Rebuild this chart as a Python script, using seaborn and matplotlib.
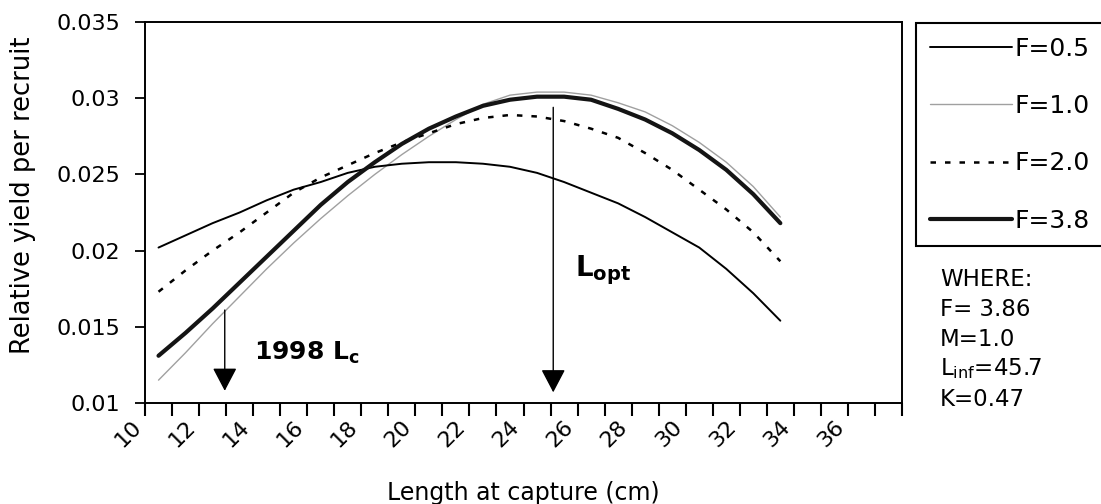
import matplotlib
matplotlib.use("Agg")
import matplotlib.pyplot as plt
import pandas as pd
import seaborn as sns

# Length at first capture (cm) for every computed point
length_cm = [10.5, 11.5, 12.5, 13.5, 14.5, 15.5, 16.5, 17.5, 18.5, 19.5, 20.5, 21.5,
             22.5, 23.5, 24.5, 25.5, 26.5, 27.5, 28.5, 29.5, 30.5, 31.5, 32.5, 33.5]

# Relative yield per recruit for each fishing mortality
yr_f05 = [0.0202, 0.0210, 0.0218, 0.0225, 0.0233, 0.0240, 0.0245, 0.0251, 0.0255, 0.0257,
          0.0258, 0.0258, 0.0257, 0.0255, 0.0251, 0.0245, 0.0238, 0.0231, 0.0222, 0.0212,
          0.0202, 0.0188, 0.0172, 0.0154]
yr_f10 = [0.0115, 0.0133, 0.0152, 0.0170, 0.0188, 0.0205, 0.0221, 0.0236, 0.0250, 0.0263,
          0.0275, 0.0286, 0.0296, 0.0302, 0.0304, 0.0304, 0.0302, 0.0297, 0.0291, 0.0282,
          0.0271, 0.0258, 0.0242, 0.0222]
yr_f20 = [0.0173, 0.0187, 0.0200, 0.0212, 0.0225, 0.0238, 0.0248, 0.0256, 0.0264, 0.0271,
          0.0277, 0.0283, 0.0287, 0.0289, 0.0288, 0.0285, 0.0280, 0.0274, 0.0264, 0.0253,
          0.0240, 0.0227, 0.0212, 0.0193]
yr_f38 = [0.0131, 0.0146, 0.0162, 0.0179, 0.0196, 0.0213, 0.0230, 0.0245, 0.0258, 0.0270,
          0.0280, 0.0288, 0.0295, 0.0299, 0.0301, 0.0301, 0.0299, 0.0293, 0.0286, 0.0277,
          0.0266, 0.0253, 0.0237, 0.0218]

series_labels = ["F=0.5", "F=1.0", "F=2.0", "F=3.8"]

# Reference lengths marked with arrows
lc_1998 = 12.95
l_opt = 25.1

x_ticks = list(range(10, 39))
x_tick_labels = ["10", "12", "14", "16", "18", "20", "22", "24", "26", "28", "30", "32", "34", "36"]
y_ticks = [0.01, 0.015, 0.02, 0.025, 0.03, 0.035]
y_tick_labels = ["0.01", "0.015", "0.02", "0.025", "0.03", "0.035"]

param_lines = ["WHERE:", "F= 3.86", "M=1.0", r"$\mathregular{L_{inf}}$=45.7", "K=0.47"]

sns.set_theme(style="ticks")
plt.rcParams["font.family"] = ["DejaVu Sans"]
plt.rcParams["mathtext.fontset"] = "dejavusans"
plt.rcParams["mathtext.default"] = "regular"
plt.rcParams["text.color"] = "black"
plt.rcParams["axes.labelcolor"] = "black"

W, H = 1101, 504
fig = plt.figure(figsize=(W / 100, H / 100), dpi=100)
ax = fig.add_axes([145 / W, 101 / H, 757 / W, 381 / H])

df = pd.DataFrame({"L": length_cm, "F=0.5": yr_f05, "F=1.0": yr_f10,
                   "F=2.0": yr_f20, "F=3.8": yr_f38})

styles = {
    "F=1.0": dict(color="#a0a0a0", linewidth=1.0, linestyle="-", zorder=2),
    "F=0.5": dict(color="black", linewidth=1.4, linestyle="-", zorder=3),
    "F=2.0": dict(color="black", linewidth=1.8, linestyle=(0, (2.2, 3.6)), zorder=3),
    "F=3.8": dict(color="#141414", linewidth=3.0, linestyle="-", zorder=4),
}
handles = {}
for name in ["F=1.0", "F=0.5", "F=2.0", "F=3.8"]:
    st = styles[name]
    sns.lineplot(data=df, x="L", y=name, ax=ax, sort=False, errorbar=None,
                 color=st["color"], linewidth=st["linewidth"],
                 linestyle=st["linestyle"], zorder=st["zorder"])
    handles[name] = ax.get_lines()[-1]

ax.set_xlim(10, 38)
ax.set_ylim(0.01, 0.035)
ax.set_xticks(x_ticks)
lab_map = {int(t): t for t in x_tick_labels}
ax.set_xticklabels([lab_map.get(v, "") for v in x_ticks], rotation=45,
                   ha="right", va="top", rotation_mode="default")
ax.set_yticks(y_ticks)
ax.set_yticklabels(y_tick_labels)
ax.tick_params(axis="x", direction="out", length=9, width=1.5, colors="black",
               labelsize=16, pad=1)
ax.tick_params(axis="y", direction="out", length=7, width=1.3, colors="black",
               labelsize=16, pad=11)
for sp in ax.spines.values():
    sp.set_visible(True)
    sp.set_color("black")
    sp.set_linewidth(1.4)

ax.set_xlabel("Length at capture (cm)", fontsize=17)
ax.xaxis.set_label_coords(0.5, -0.205)
ax.set_ylabel("Relative yield per recruit", fontsize=18.5)
ax.yaxis.set_label_coords(-0.144, 0.545)

arrow = dict(arrowstyle="-|>,head_length=0.8,head_width=0.42", mutation_scale=18,
             color="black", lw=1.0, shrinkA=0, shrinkB=0)
ax.annotate("", xy=(lc_1998, 0.0108), xytext=(lc_1998, 0.0161), arrowprops=arrow, zorder=5)
ax.annotate("", xy=(l_opt, 0.0107), xytext=(l_opt, 0.0294), arrowprops=arrow, zorder=5)
ax.text(14.05, 0.0133, r"1998 $\mathbf{L_c}$", fontsize=18, fontweight="bold",
        ha="left", va="center")
ax.text(25.9, 0.0187, r"$\mathbf{L_{opt}}$", fontsize=20, ha="left", va="center")

leg = ax.legend([handles[n] for n in series_labels], series_labels,
                loc="upper left", bbox_to_anchor=(916 / W, 1 - 23 / H),
                bbox_transform=fig.transFigure, frameon=True, fancybox=False,
                edgecolor="black", framealpha=1, fontsize=18, borderpad=0.55,
                handlelength=3.3, handletextpad=0.1, labelspacing=1.33,
                borderaxespad=0)
leg.get_frame().set_linewidth(1.5)

for i, line in enumerate(param_lines):
    fig.text(940 / W, 1 - (279 + 30 * i) / H, line, fontsize=16.5,
             ha="left", va="center")

fig.savefig("out.png", dpi=100)
